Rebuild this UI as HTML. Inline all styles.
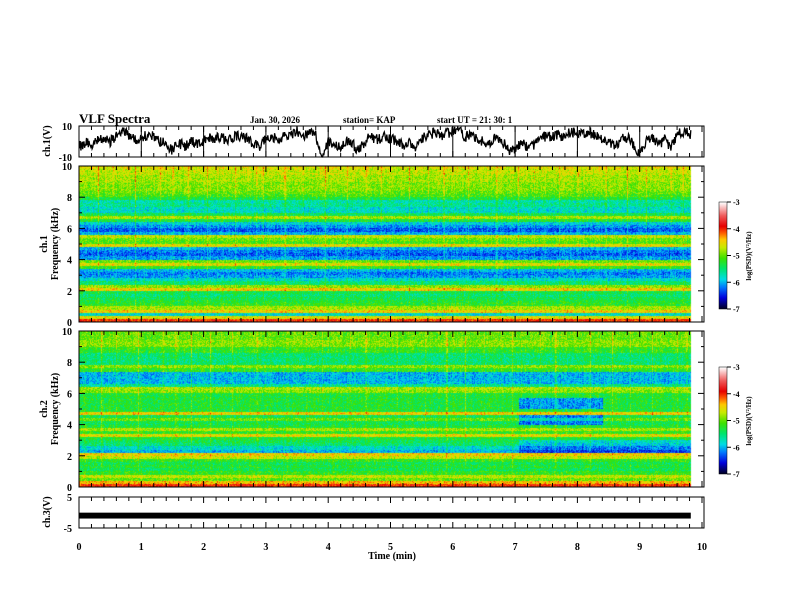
<!DOCTYPE html>
<html><head><meta charset="utf-8"><style>
body{margin:0;background:#fff;width:792px;height:612px;overflow:hidden;position:relative;font-family:"Liberation Serif",serif;}
canvas{position:absolute;}
svg{position:absolute;left:0;top:0;}
</style></head><body>
<canvas id="sp1" width="613" height="156" style="left:79px;top:166px"></canvas>
<canvas id="sp2" width="613" height="156" style="left:79px;top:331px"></canvas>
<canvas id="cb1" width="8" height="107" style="left:719px;top:202px"></canvas>
<canvas id="cb2" width="8" height="107" style="left:719px;top:367px"></canvas>
<svg id="ov" width="792" height="612"></svg>
<script>
// ---- data ----
const freqBins = 50; // 0..10 kHz, 0.2 kHz each
const ch1Profile = [-4.0,-4.6,-5.8,-4.5,-4.8,-5.2,-5.3,-5.4,-5.5,-5.4,-4.5,-4.9,-5.5,-5.8,-6.1,-6.2,-6.0,-5.2,-4.6,-5.0,-6.1,-6.3,-6.2,-6.0,-4.6,-5.1,-5.0,-4.7,-6.0,-6.3,-6.1,-5.9,-5.3,-4.8,-5.4,-5.8,-5.8,-5.6,-5.7,-5.3,-5.1,-5.0,-4.9,-4.9,-4.9,-4.8,-4.8,-4.7,-4.7,-4.6];
const ch2Profile = [-4.0,-4.4,-5.0,-4.7,-5.2,-5.4,-5.3,-5.4,-5.2,-4.7,-4.5,-6.0,-5.8,-5.5,-5.4,-5.3,-4.6,-5.2,-4.8,-5.3,-5.4,-5.0,-5.4,-4.5,-5.3,-5.3,-5.3,-5.3,-5.3,-5.3,-4.9,-4.8,-5.6,-6.0,-6.0,-6.0,-6.0,-5.2,-4.9,-5.5,-5.5,-5.5,-5.5,-5.2,-5.2,-4.9,-4.9,-5.0,-5.0,-5.0];
const ch2EventStart = [7.05, 7.05, 7.05];
const ch2EventEnd   = [8.4, 8.4, 9.82];
const ch2EventFlo   = [4.0, 5.0, 2.2];
const ch2EventFhi   = [4.6, 5.7, 3.0];
const ch2EventDelta = [-0.8, -0.8, -0.4];
const ch1Streaks = [0.3,0.55,0.9,1.3,1.5,1.75,2.05,2.5,2.85,2.95,3.3,3.6,3.95,4.3,4.6,4.85,5.3,5.6,5.85,6.25,6.7,7.05,7.3,7.7,8.0,8.45,8.8,9.1,9.5,9.7];
const ch2Streaks = [0.35,0.6,0.95,1.35,1.55,1.8,2.1,2.45,2.85,3.35,3.65,3.9,4.35,4.6,5.1,5.55,5.9,6.2,6.5,6.95,7.1,7.4,7.65,8.2,8.55,8.85,9.2,9.6,9.75];
const ch1Wave = [-3,-1,-2,1,2,0,3,6,4,2,1,5,3,0,-2,-6,-1,-3,0,-1,1,3,2,2,1,3,4,2,-1,-4,2,3,1,4,5,7,3,6,4,-10,0,-2,-4,1,-2,-6,1,3,1,3,2,0,-2,-1,-3,2,3,6,4,5,6,7,3,5,2,-1,-1,3,0,-6,-5,-1,-4,-2,1,4,3,5,2,7,4,5,6,3,1,-1,-2,1,3,-2,-8,0,3,-2,1,-4,5,6,5,2];
const ch3Mean = -1.0;
const ch3HalfWidth = 0.95;
const tEnd = 9.82;
const xTicks = [0,1,2,3,4,5,6,7,8,9,10];
const fTicks = [0,2,4,6,8,10];
const cbTicks = [-3,-4,-5,-6,-7];

// ---- scales ----
const X0=79, PX=62.3;
const xS = t => X0 + t*PX;
function hash(a,b){let h=(a*374761393+b*668265263)^0x5bd1e995;h=(h^(h>>>13))*1274126177;h^=h>>>16;return ((h>>>0)%10000)/10000;}
const stops=[[-7,[0,0,40]],[-6.6,[0,0,220]],[-6.2,[0,120,255]],[-5.9,[0,220,230]],[-5.5,[0,230,110]],[-5.1,[60,225,0]],[-4.7,[200,235,0]],[-4.4,[255,200,0]],[-4.15,[255,90,0]],[-3.9,[230,0,0]],[-3.5,[240,90,90]],[-3,[255,255,255]]];
function cmap(v){if(v<=-7)return stops[0][1];if(v>=-3)return stops[stops.length-1][1];
 for(let i=0;i<stops.length-1;i++){const a=stops[i],b=stops[i+1];if(v<=b[0]){const f=(v-a[0])/(b[0]-a[0]);return [0,1,2].map(k=>Math.round(a[1][k]+f*(b[1][k]-a[1][k])));}}}

function drawSpec(id, prof, streaks, ev, seed){
 const c=document.getElementById(id), g=c.getContext('2d'), W=c.width,H=c.height;
 const img=g.createImageData(W,H);
 const colT=[]; for(let x=0;x<W;x++){const t=x/PX;let s=0;streaks.forEach((st,k)=>{const d=Math.abs(t-st)*PX;if(d<0.6)s+=0.3+0.3*hash(k,seed);});colT.push(s);}
 for(let y=0;y<H;y++){const f=(H-0.5-y)/H*10;const bin=Math.min(freqBins-1,Math.floor(f/0.2));
  for(let x=0;x<W;x++){const t=x/PX;let v=prof[bin];
   if(ev){for(let k=0;k<ev[0].length;k++){if(t>=ev[0][k]&&t<=ev[1][k]&&f>=ev[2][k]&&f<=ev[3][k])v+=ev[4][k];}}
   v+=(hash(x+seed,y)-0.5)*0.6+(hash(x,seed)-0.5)*0.2;
   if(colT[x]>0&&f>1)v+=colT[x]*(0.4+0.5*hash(y,x))*(0.4+f/12);
   const col=cmap(v),o=(y*W+x)*4;img.data[o]=col[0];img.data[o+1]=col[1];img.data[o+2]=col[2];img.data[o+3]=255;}}
 g.putImageData(img,0,0);
 g.clearRect(Math.round(tEnd*PX),0,W,H);
}
drawSpec('sp1',ch1Profile,ch1Streaks,null,11);
drawSpec('sp2',ch2Profile,ch2Streaks,[ch2EventStart,ch2EventEnd,ch2EventFlo,ch2EventFhi,ch2EventDelta],37);
['cb1','cb2'].forEach(id=>{const c=document.getElementById(id),g=c.getContext('2d');for(let y=0;y<c.height;y++){const v=-3-4*y/(c.height-1);const col=cmap(v);g.fillStyle=`rgb(${col})`;g.fillRect(0,y,c.width,1);}});

// ---- SVG overlay ----
const NS='http://www.w3.org/2000/svg', ov=document.getElementById('ov');
function el(tag,attrs,name,parent){const e=document.createElementNS(NS,tag);for(const k in attrs)e.setAttribute(k,attrs[k]);
 
 
 (parent||ov).appendChild(e);return e;}
function txt(x,y,s,size,name,anchor,extra){const e=el('text',Object.assign({x:x,y:y,'font-size':size,'font-family':'Liberation Serif, serif','font-weight':'bold','text-anchor':anchor||'start'},extra||{}),name);e.textContent=s;return e;}
const panels=[{n:'ch1-wave',top:126,bot:157},{n:'ch1-spec',top:166,bot:322},{n:'ch2-spec',top:331,bot:487},{n:'ch3-wave',top:497,bot:528}];
const XR=704;
panels.forEach(p=>{
 el('rect',{x:X0,y:p.top,width:XR-X0,height:p.bot-p.top,fill:'none',stroke:'#000','stroke-width':1},p.n+'-frame');
 for(let t=0;t<=10.001;t+=0.2){const x=xS(t),maj=Math.abs(t-Math.round(t))<0.01,L=maj?6:4;
  el('line',{x1:x,y1:p.top,x2:x,y2:p.top+L,stroke:'#000'},p.n+'-top-tick');
  el('line',{x1:x,y1:p.bot,x2:x,y2:p.bot-L,stroke:'#000'},p.n+'-bottom-tick');}
});
xTicks.slice(1,10).forEach(t=>el('line',{x1:xS(t),y1:126,x2:xS(t),y2:157,stroke:'#000'},'ch1-minute-line'));
[[166,322,'ch1'],[331,487,'ch2']].forEach(([top,bot,n])=>{
 for(let f=0;f<=10;f++){const y=bot-(bot-top)*f/10,maj=f%2==0;
  el('line',{x1:X0,y1:y,x2:X0+(maj?6:3),y2:y,stroke:'#000'},n+'-freq-tick-left');
  el('line',{x1:XR,y1:y,x2:XR-(maj?6:3),y2:y,stroke:'#000'},n+'-freq-tick-right');}
 fTicks.forEach(f=>txt(72,bot-(bot-top)*f/10+4,String(f),10,n+'-freq-label','end'));
});
txt(72,130,'10',10,'ch1-y-max','end');txt(72,161,'-10',10,'ch1-y-min','end');
txt(72,501,'5',10,'ch3-y-max','end');txt(72,532,'-5',10,'ch3-y-min','end');
// ch1 waveform
const yW=v=>141.5-v*(31/20);
let d='';const N=ch1Wave.length;
for(let i=0;i<N;i++){for(let s=0;s<10;s++){const t=(i+s/10)*0.1;if(t>tEnd)break;const nx=ch1Wave[Math.min(N-1,i+1)];
 let v=ch1Wave[i]+(nx-ch1Wave[i])*s/10+(hash(i,s)-0.5)*7;v=Math.max(-10,Math.min(10,v));
 d+=(d?'L':'M')+xS(t).toFixed(1)+','+yW(v).toFixed(1);}}
el('path',{d:d,fill:'none',stroke:'#000','stroke-width':1.3},'ch1-waveform');
// ch3 band
const y3=v=>512.5-v*(31/10);
el('rect',{x:X0,y:y3(ch3Mean+ch3HalfWidth),width:xS(tEnd)-X0,height:y3(ch3Mean-ch3HalfWidth)-y3(ch3Mean+ch3HalfWidth),fill:'#000'},'ch3-signal');
xTicks.forEach(t=>txt(xS(t),550,String(t),10,'x-tick-label','middle'));
txt(392,559,'Time (min)',10,'x-axis-title','middle');
txt(79,123,'VLF Spectra',13,'title');
txt(250,123,'Jan. 30, 2026',9,'date');
txt(343,123,'station= KAP',9,'station');
txt(437,123,'start UT =  21: 30: 1',9,'start-time');
txt(0,0,'ch.1(V)',10,'ch1-y-title','middle',{transform:'translate(50,141) rotate(-90)'});
txt(0,0,'ch.1',10,'ch1-label','middle',{transform:'translate(47,244) rotate(-90)'});
txt(0,0,'Frequency (kHz)',10,'ch1-freq-title','middle',{transform:'translate(58,244) rotate(-90)'});
txt(0,0,'ch.2',10,'ch2-label','middle',{transform:'translate(47,409) rotate(-90)'});
txt(0,0,'Frequency (kHz)',10,'ch2-freq-title','middle',{transform:'translate(58,409) rotate(-90)'});
txt(0,0,'ch.3(V)',10,'ch3-y-title','middle',{transform:'translate(50,512) rotate(-90)'});
[202,367].forEach((top,k)=>{
 el('rect',{x:719,y:top,width:8,height:107,fill:'none',stroke:'#000','stroke-width':0.5},'colorbar-frame');
 cbTicks.forEach((v,i)=>{const y=top+i*107/4;el('line',{x1:727,y1:y,x2:731,y2:y,stroke:'#000'},'colorbar-tick');txt(733,y+3,String(v),8,'colorbar-label');});
 txt(0,0,'log(PSD)(V\u00B2/Hz)',7,'colorbar-title','middle',{transform:`translate(751,${top+54}) rotate(-90)`});
});
</script>
</body></html>
